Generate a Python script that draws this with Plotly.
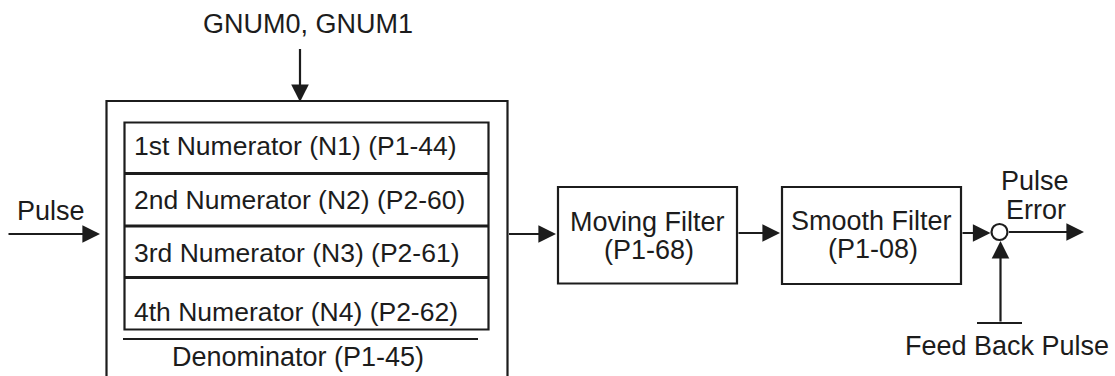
import plotly.graph_objects as go

# ---- diagram content -------------------------------------------------------
SELECTOR_LABEL = "GNUM0, GNUM1"
INPUT_LABEL = "Pulse"
NUMERATOR_ROWS = [
    "1st Numerator (N1) (P1-44)",
    "2nd Numerator (N2) (P2-60)",
    "3rd Numerator (N3) (P2-61)",
    "4th Numerator (N4) (P2-62)",
]
DENOMINATOR_LABEL = "Denominator (P1-45)"
FILTER_NAMES = ["Moving Filter", "Smooth Filter"]
FILTER_PARAMS = ["(P1-68)", "(P1-08)"]
OUTPUT_LABEL = ["Pulse", "Error"]
FEEDBACK_LABEL = "Feed Back Pulse"

# ---- layout geometry (pixel space of the 1115x376 canvas) ------------------
W, H = 1115, 376
OUTER = dict(x0=106.5, x1=507.5, y0=101, y1=400)
INNER = dict(x0=124.5, x1=488.5, y0=122.5, y1=329.5)
ROW_LINES_Y = [173.5, 226, 277.5]
ROW_TEXT_Y = [146, 200, 252.5, 312]
ROW_TEXT_X = 132
DEN_LINE = dict(x0=123, x1=478, y=339)
DEN_TEXT = (298, 357)
SEL_TEXT = (308, 24)
SEL_ARROW_X = 300
IN_TEXT = (51, 211)
MAIN_Y = 234
FILTER_BOXES = [dict(x0=558, x1=737, y0=187, y1=283.5),
                dict(x0=782, x1=961, y0=187, y1=284)]
FILTER_TEXT_Y = [(221.5, 250), (221, 249)]
SUM = dict(cx=999.5, cy=232, r=8)
OUT_END_X = 1084
OUT_TEXT = [(1035, 181), (1036, 210)]
FB_X = 1000.5
FB_BAR = dict(x0=977, x1=1022, y=323)
FB_TEXT = (1007, 346)

INK = "#1c1c1c"
FONT = "Liberation Sans, Arial, Helvetica, sans-serif"
LW = 2.2

fig = go.Figure()

shapes = []


def rect(b, width=LW):
    shapes.append(dict(type="rect", xref="x", yref="y", x0=b["x0"], x1=b["x1"],
                       y0=b["y0"], y1=b["y1"], line=dict(color=INK, width=width),
                       fillcolor="rgba(0,0,0,0)"))


def line(x0, y0, x1, y1, width=LW):
    shapes.append(dict(type="line", xref="x", yref="y", x0=x0, y0=y0, x1=x1, y1=y1,
                       line=dict(color=INK, width=width)))


rect(OUTER)
rect(INNER)
for yy in ROW_LINES_Y:
    line(INNER["x0"], yy, INNER["x1"], yy, width=2.8)
line(DEN_LINE["x0"], DEN_LINE["y"], DEN_LINE["x1"], DEN_LINE["y"])
for b in FILTER_BOXES:
    rect(b)
shapes.append(dict(type="circle", xref="x", yref="y",
                   x0=SUM["cx"] - SUM["r"], x1=SUM["cx"] + SUM["r"],
                   y0=SUM["cy"] - SUM["r"], y1=SUM["cy"] + SUM["r"],
                   line=dict(color=INK, width=LW), fillcolor="white"))
line(FB_BAR["x0"], FB_BAR["y"], FB_BAR["x1"], FB_BAR["y"])

annotations = []


def text(s, x, y, size=27, anchor="center"):
    annotations.append(dict(text=s, x=x, y=y, xref="x", yref="y", showarrow=False,
                            xanchor=anchor, yanchor="middle",
                            font=dict(family=FONT, size=size, color=INK)))


def arrow(x0, y0, x1, y1):
    annotations.append(dict(text="", x=x1, y=y1, ax=x0, ay=y0, xref="x", yref="y",
                            axref="x", ayref="y", showarrow=True, arrowhead=2,
                            arrowsize=1.6, arrowwidth=LW, arrowcolor=INK, standoff=0,
                            startstandoff=0))


text(SELECTOR_LABEL, *SEL_TEXT)
arrow(SEL_ARROW_X, 47.5, SEL_ARROW_X, OUTER["y0"] + 1)
text(INPUT_LABEL, *IN_TEXT)
arrow(7, MAIN_Y, 100, MAIN_Y)
for s, yy in zip(NUMERATOR_ROWS, ROW_TEXT_Y):
    text(s, ROW_TEXT_X, yy, size=26.5, anchor="left")
text(DENOMINATOR_LABEL, *DEN_TEXT)

arrow(OUTER["x1"], MAIN_Y, FILTER_BOXES[0]["x0"] - 2, MAIN_Y)
arrow(FILTER_BOXES[0]["x1"], MAIN_Y - 1, FILTER_BOXES[1]["x0"] - 2, MAIN_Y - 1)
arrow(FILTER_BOXES[1]["x1"], MAIN_Y - 1, SUM["cx"] - SUM["r"] - 1, MAIN_Y - 1)
for b, name, par, (y1, y2) in zip(FILTER_BOXES, FILTER_NAMES, FILTER_PARAMS, FILTER_TEXT_Y):
    cx = (b["x0"] + b["x1"]) / 2
    text(name, cx, y1)
    text(par, cx + 1, y2)

arrow(SUM["cx"] + SUM["r"], SUM["cy"], OUT_END_X, SUM["cy"])
for s, (xx, yy) in zip(OUTPUT_LABEL, OUT_TEXT):
    text(s, xx, yy)
arrow(FB_X, FB_BAR["y"], FB_X, SUM["cy"] + SUM["r"] + 1)
text(FEEDBACK_LABEL, *FB_TEXT)

fig.update_layout(
    width=W, height=H,
    margin=dict(l=0, r=0, t=0, b=0),
    paper_bgcolor="white", plot_bgcolor="white",
    xaxis=dict(range=[0, W], visible=False, fixedrange=True),
    yaxis=dict(range=[H, 0], visible=False, fixedrange=True),
    shapes=shapes, annotations=annotations, showlegend=False,
)

fig.write_html("out.html", config={"displayModeBar": False},
               post_script="document.body.style.margin='0';document.body.style.overflow='hidden';")
